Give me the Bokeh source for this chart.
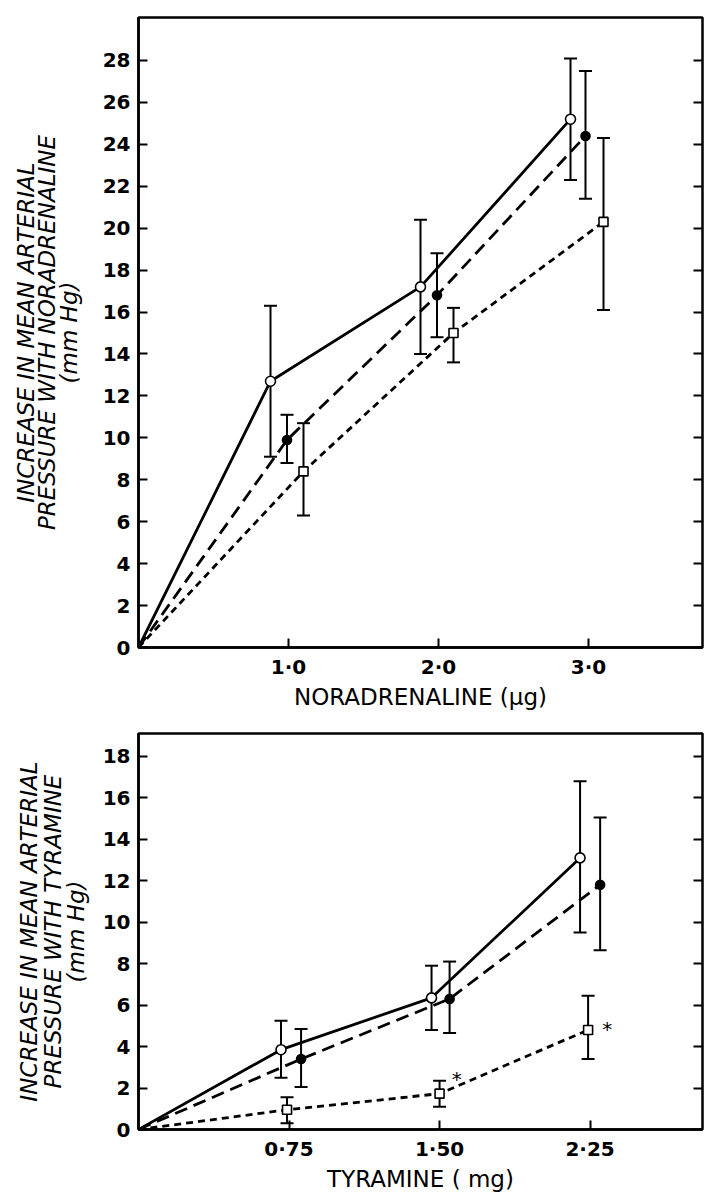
from bokeh.plotting import figure
from bokeh.layouts import column
from bokeh.models import LinearAxis, FixedTicker, Range1d, CustomLabelingPolicy
from bokeh.embed import file_html
from bokeh.resources import INLINE
from bokeh.core.properties import value

# ---------------- Top panel: noradrenaline ----------------
na_ticks = [1.0, 2.0, 3.0]
na_tick_labels = ["1·0", "2·0", "3·0"]
na_yticks = list(range(0, 30, 2))
na_xlabel = "NORADRENALINE (\u03bcg)"
na_ylabel = ["INCREASE IN MEAN ARTERIAL", "PRESSURE WITH NORADRENALINE", "(mm Hg)"]

na_open_x = [0.88, 1.88, 2.88]
na_open_y = [12.7, 17.2, 25.2]
na_open_hi = [16.3, 20.4, 28.1]
na_open_lo = [9.1, 14.0, 22.3]

na_fill_x = [0.99, 1.99, 2.98]
na_fill_y = [9.9, 16.8, 24.4]
na_fill_hi = [11.1, 18.8, 27.5]
na_fill_lo = [8.8, 14.8, 21.4]

na_sq_x = [1.10, 2.10, 3.10]
na_sq_y = [8.4, 15.0, 20.3]
na_sq_hi = [10.7, 16.2, 24.3]
na_sq_lo = [6.3, 13.6, 16.1]

# ---------------- Bottom panel: tyramine ----------------
ty_ticks = [0.75, 1.50, 2.25]
ty_tick_labels = ["0·75", "1·50", "2·25"]
ty_yticks = list(range(0, 20, 2))
ty_xlabel = "TYRAMINE ( mg)"
ty_ylabel = ["INCREASE IN MEAN ARTERIAL", "PRESSURE WITH TYRAMINE", "(mm Hg)"]

ty_open_x = [0.71, 1.46, 2.20]
ty_open_y = [3.85, 6.35, 13.1]
ty_open_hi = [5.25, 7.9, 16.8]
ty_open_lo = [2.5, 4.8, 9.5]

ty_fill_x = [0.81, 1.55, 2.30]
ty_fill_y = [3.4, 6.3, 11.8]
ty_fill_hi = [4.85, 8.1, 15.05]
ty_fill_lo = [2.05, 4.65, 8.65]

ty_sq_x = [0.74, 1.50, 2.24]
ty_sq_y = [0.95, 1.73, 4.8]
ty_sq_hi = [1.55, 2.35, 6.45]
ty_sq_lo = [0.3, 1.1, 3.4]

ty_star_x = [1.585, 2.335]
ty_star_y = [2.45, 4.85]
ty_star_text = ["*", "*"]

TICK_FONT = "DejaVu Sans"
LABEL_FONT = "DejaVu Sans"

HIDE_LABELS = CustomLabelingPolicy(code="""
try { for (let i = 0; i < indices.size; i++) { indices.unset(i) } } catch (e) {}
return indices
""")


def label_axis(text, standoff):
    ax = LinearAxis(ticker=FixedTicker(ticks=[]))
    ax.axis_line_color = None
    ax.major_tick_in = 0
    ax.major_tick_out = 0
    ax.minor_tick_in = 0
    ax.minor_tick_out = 0
    ax.major_tick_line_color = None
    ax.minor_tick_line_color = None
    ax.major_label_standoff = 0
    ax.major_label_text_font_size = "0px"
    ax.major_label_policy = HIDE_LABELS
    ax.axis_label = text
    ax.axis_label_text_font = LABEL_FONT
    ax.axis_label_text_font_style = "italic"
    ax.axis_label_text_font_size = "23px"
    ax.axis_label_text_color = "black"
    ax.axis_label_standoff = standoff
    return ax


def make_panel(height, border_top, border_bottom, x_end, y_end,
               xticks, xlabels, yticks, xlabel, ylabel_lines, standoffs):
    p = figure(width=704, height=height, output_backend="svg",
               toolbar_location=None, x_range=Range1d(0, x_end),
               y_range=Range1d(0, y_end),
               min_border_left=138, min_border_right=2,
               min_border_top=border_top, min_border_bottom=border_bottom)
    p.grid.visible = False
    p.background_fill_color = "white"
    p.border_fill_color = "white"
    p.outline_line_color = "black"
    p.outline_line_width = 2.5

    xa = p.xaxis[0]
    xa.ticker = FixedTicker(ticks=xticks)
    xa.major_label_overrides = {t: l for t, l in zip(xticks, xlabels)}
    xa.major_tick_in = 9
    xa.major_tick_out = 0
    xa.minor_tick_in = 0
    xa.minor_tick_out = 0
    xa.minor_tick_line_color = None
    xa.major_tick_line_width = 2
    xa.axis_line_width = 2.5
    xa.major_label_text_font = TICK_FONT
    xa.major_label_text_font_style = "bold"
    xa.major_label_text_font_size = "20px"
    xa.major_label_text_color = "black"
    xa.major_label_standoff = 7
    xa.axis_label = xlabel
    xa.axis_label_text_font = LABEL_FONT
    xa.axis_label_text_font_style = "normal"
    xa.axis_label_text_font_size = "23px"
    xa.axis_label_text_color = "black"
    xa.axis_label_standoff = 2

    ya = p.yaxis[0]
    ya.ticker = FixedTicker(ticks=yticks)
    ya.major_tick_in = 9
    ya.major_tick_out = 0
    ya.minor_tick_in = 0
    ya.minor_tick_out = 0
    ya.minor_tick_line_color = None
    ya.major_tick_line_width = 2
    ya.axis_line_width = 2.5
    ya.major_label_text_font = TICK_FONT
    ya.major_label_text_font_style = "bold"
    ya.major_label_text_font_size = "20px"
    ya.major_label_text_color = "black"
    ya.major_label_standoff = 8

    ra = LinearAxis(ticker=FixedTicker(ticks=yticks))
    ra.major_tick_in = 9
    ra.major_tick_out = 0
    ra.minor_tick_in = 0
    ra.minor_tick_out = 0
    ra.minor_tick_line_color = None
    ra.major_tick_line_width = 2
    ra.axis_line_color = None
    ra.major_label_text_font_size = "0px"
    ra.major_label_standoff = 0
    ra.axis_label_standoff = 0
    ra.major_label_policy = HIDE_LABELS
    p.add_layout(ra, "right")

    # stacked y-axis title lines: innermost first
    for txt, so in zip(reversed(ylabel_lines), standoffs):
        p.add_layout(label_axis(txt, so), "left")
    return p


def draw_series(p, xs, ys, hi, lo, dash, marker, fill, size):
    p.line([0] + xs, [0] + ys, line_color="black", line_width=2.8,
           line_dash=dash)
    p.segment(x0=xs, y0=lo, x1=xs, y1=hi, line_color="black", line_width=2)
    p.scatter(xs, hi, marker="dash", size=13, line_color="black", line_width=2)
    p.scatter(xs, lo, marker="dash", size=13, line_color="black", line_width=2)
    p.scatter(xs, ys, marker=marker, size=size, line_color="black",
              line_width=1.6, fill_color=fill)


top = make_panel(720, 17, 73, 3.76, 30.05, na_ticks, na_tick_labels, na_yticks,
                 na_xlabel, na_ylabel, [18, -7, -8])
draw_series(top, na_open_x, na_open_y, na_open_hi, na_open_lo, "solid", "circle", "white", 10)
draw_series(top, na_fill_x, na_fill_y, na_fill_hi, na_fill_lo, "13 7", "circle", "black", 9)
draw_series(top, na_sq_x, na_sq_y, na_sq_hi, na_sq_lo, "7 5", "square", "white", 9)

bot = make_panel(474, 13, 62, 2.81, 19.1, ty_ticks, ty_tick_labels, ty_yticks,
                 ty_xlabel, ty_ylabel, [11, -6, -5])
draw_series(bot, ty_open_x, ty_open_y, ty_open_hi, ty_open_lo, "solid", "circle", "white", 10)
draw_series(bot, ty_fill_x, ty_fill_y, ty_fill_hi, ty_fill_lo, "13 7", "circle", "black", 9)
draw_series(bot, ty_sq_x, ty_sq_y, ty_sq_hi, ty_sq_lo, "7 5", "square", "white", 9)
bot.text(ty_star_x, ty_star_y, text=ty_star_text, text_font=value("DejaVu Sans"),
         text_font_size="20px", text_align="center", text_baseline="middle",
         text_color="black")

layout = column(top, bot, spacing=0)
open("out.html", "w").write(file_html(layout, INLINE))
